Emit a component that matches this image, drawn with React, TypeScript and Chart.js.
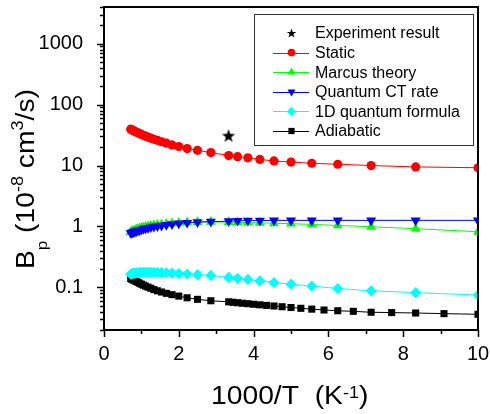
import { useEffect, useRef } from 'react';
import { Chart, registerables } from 'chart.js';
import { drawPoint } from 'chart.js/helpers';

Chart.register(...registerables);

const FONT = '"Liberation Sans", Arial, Helvetica, sans-serif';

// Temperatures (K) at which the curves were sampled; x = 1000/T
const tempsMain = [100, 120, 140, 160, 180, 200, 220, 240, 260, 280, 300,
  350, 400, 450, 500, 550, 600, 650, 700, 750, 800, 850, 900, 950, 1000,
  1050, 1100, 1150, 1200, 1250, 1300, 1350, 1400];
const tempsAdiabatic = [100, 110, 120, 130, 140, 150, 160, 170, 180, 190, 200,
  210, 220, 230, 240, 250, 260, 270, 280, 290, 300,
  350, 400, 450, 500, 550, 600, 650, 700, 750, 800, 850, 900, 950, 1000,
  1050, 1100, 1150, 1200, 1250, 1300, 1350, 1400];

const experimentX = [3.33];
const experimentY = [31];

const staticVals = [9.2, 9.5, 10.0, 10.5, 10.9, 11.4, 11.9, 12.6, 13.4, 14.0, 14.6,
  16.3, 17.8, 19.0, 20.5, 21.8, 23.3, 24.6, 25.9, 27.0, 28.2, 29.3, 30.4, 31.4, 32.4,
  33.4, 34.4, 35.3, 36.2, 37.0, 37.9, 38.7, 39.5];
const marcusVals = [0.82, 0.92, 0.99, 1.04, 1.08, 1.11, 1.13, 1.15, 1.16, 1.17, 1.18,
  1.19, 1.18, 1.17, 1.15, 1.13, 1.11, 1.09, 1.07, 1.05, 1.03, 1.01, 0.99, 0.97, 0.95,
  0.93, 0.91, 0.89, 0.87, 0.86, 0.84, 0.83, 0.81];
const quantumCTVals = [1.26, 1.26, 1.26, 1.26, 1.26, 1.26, 1.26, 1.25, 1.25, 1.24, 1.22,
  1.20, 1.18, 1.15, 1.12, 1.09, 1.06, 1.03, 1.01, 0.99, 0.97, 0.95, 0.93, 0.91, 0.89,
  0.87, 0.86, 0.84, 0.83, 0.81, 0.80, 0.79, 0.78];
const oneDVals = [0.075, 0.082, 0.088, 0.096, 0.105, 0.113, 0.12, 0.128, 0.135, 0.141, 0.146,
  0.157, 0.162, 0.166, 0.169, 0.172, 0.174, 0.175, 0.176, 0.177, 0.177, 0.177, 0.177, 0.176, 0.176,
  0.175, 0.174, 0.173, 0.172, 0.170, 0.169, 0.167, 0.165];
const adiabaticVals = [0.0362, 0.0371, 0.0380, 0.0386, 0.0391, 0.0405, 0.0414, 0.0426, 0.0440, 0.0454, 0.0468,
  0.0482, 0.0495, 0.0507, 0.0518, 0.0529, 0.0540, 0.0550, 0.0560, 0.0570, 0.0580,
  0.0604, 0.0637, 0.0676, 0.072, 0.076, 0.080, 0.084, 0.088, 0.092, 0.097, 0.101, 0.105, 0.109, 0.113,
  0.117, 0.121, 0.125, 0.128, 0.131, 0.134, 0.137, 0.140];

const seriesLabels = ['Experiment result', 'Static', 'Marcus theory', 'Quantum CT rate', '1D quantum formula', 'Adiabatic'];
const seriesColors = ['#000000', '#FF0000', '#00FF00', '#0000FF', '#00FFFF', '#000000'];

const xTicks = [0, 2, 4, 6, 8, 10];
const yTicks = [0.1, 1, 10, 100, 1000];

function starPath(ctx: CanvasRenderingContext2D, cx: number, cy: number, R: number, r: number) {
  ctx.beginPath();
  for (let i = 0; i < 10; i++) {
    const a = -Math.PI / 2 + (i * Math.PI) / 5;
    const rad = i % 2 === 0 ? R : r;
    ctx.lineTo(cx + rad * Math.cos(a), cy + rad * Math.sin(a));
  }
  ctx.closePath();
}

function makeStar(size: number) {
  const c = document.createElement('canvas');
  c.width = size;
  c.height = size;
  const ctx = c.getContext('2d')!;
  ctx.fillStyle = '#000';
  starPath(ctx, size / 2, size / 2 + 0.6, size / 2, size / 5);
  ctx.fill();
  return c;
}

type Seg = { t: string; size: number; dy: number };
function drawRich(ctx: CanvasRenderingContext2D, segs: Seg[], x: number, y: number, rot: number, sx: number) {
  ctx.save();
  ctx.translate(x, y);
  ctx.rotate(rot);
  ctx.scale(sx, 1);
  ctx.textBaseline = 'alphabetic';
  ctx.textAlign = 'left';
  ctx.fillStyle = '#000';
  let cx = 0;
  for (const s of segs) {
    ctx.font = `${s.size}px ${FONT}`;
    ctx.fillText(s.t, cx, s.dy);
    cx += ctx.measureText(s.t).width;
  }
  ctx.restore();
}

const noPad = (s: any) => {
  s.paddingLeft = 0;
  s.paddingRight = 0;
  s.paddingTop = 0;
  s.paddingBottom = 0;
};

const decorPlugin = {
  id: 'decor',
  afterDraw(chart: any) {
    const ctx: CanvasRenderingContext2D = chart.ctx;
    const { left, right, top, bottom } = chart.chartArea;
    const xs = chart.scales.x;
    const ys = chart.scales.y;
    ctx.save();
    ctx.strokeStyle = '#000';
    ctx.lineWidth = 2;
    ctx.strokeRect(left, top, right - left, bottom - top);

    ctx.lineWidth = 1.5;
    ctx.beginPath();
    for (let v = xs.min; v <= xs.max; v += 1) {
      const px = Math.round(xs.getPixelForValue(v)) + 0.5;
      const len = v % 2 === 0 ? 7 : 4;
      ctx.moveTo(px, bottom);
      ctx.lineTo(px, bottom + len);
    }
    ctx.stroke();

    ctx.beginPath();
    for (let d = -2; d <= 3; d++) {
      for (let m = 1; m <= 9; m++) {
        const v = m * Math.pow(10, d);
        if (v < ys.min * 0.999 || v > ys.max * 1.001) continue;
        const py = Math.round(ys.getPixelForValue(v)) + 0.5;
        const len = m === 1 ? 7 : 4;
        ctx.moveTo(left, py);
        ctx.lineTo(left - len, py);
      }
    }
    ctx.stroke();

    // axis titles
    drawRich(ctx, [
      { t: '1000/T  (K', size: 25, dy: 0 },
      { t: '-1', size: 16, dy: -6 },
      { t: ')', size: 25, dy: 0 },
    ], 211, 404, 0, 1.13);
    drawRich(ctx, [
      { t: 'B', size: 25, dy: 0 },
      { t: 'p', size: 15, dy: 13 },
      { t: ' (10', size: 25, dy: 0 },
      { t: '-8', size: 16, dy: -11 },
      { t: ' cm', size: 25, dy: 0 },
      { t: '3', size: 16, dy: -11 },
      { t: '/s)', size: 25, dy: 0 },
    ], 34, 269, -Math.PI / 2, 1.13);

    // legend
    const bx = 254, by = 14, bw = 219, bh = 131;
    ctx.fillStyle = '#fff';
    ctx.fillRect(bx, by, bw, bh);
    ctx.strokeStyle = '#333';
    ctx.lineWidth = 1;
    ctx.strokeRect(bx + 0.5, by + 0.5, bw, bh);
    chart.data.datasets.forEach((ds: any, i: number) => {
      const cy = 33 + i * 19.6;
      const mx = 291.5;
      if (ds.showLine !== false) {
        ctx.strokeStyle = ds.borderColor;
        ctx.lineWidth = 1;
        ctx.beginPath();
        ctx.moveTo(273, Math.round(cy) + 0.5);
        ctx.lineTo(309, Math.round(cy) + 0.5);
        ctx.stroke();
      }
      ctx.fillStyle = ds.pointBackgroundColor;
      if (ds.legendStar) {
        starPath(ctx, mx, cy + 0.5, 5, 2);
        ctx.fill();
      } else {
        drawPoint(ctx, { pointStyle: ds.pointStyle, radius: ds.legendRadius, rotation: ds.pointRotation || 0, borderWidth: 0 }, mx, cy);
      }
      ctx.fillStyle = '#000';
      ctx.font = `16px ${FONT}`;
      ctx.textBaseline = 'middle';
      ctx.textAlign = 'left';
      ctx.fillText(ds.label, 315, cy + 1);
    });
    ctx.restore();
  },
};

export default function App() {
  const ref = useRef<HTMLCanvasElement>(null);
  useEffect(() => {
    const star = makeStar(14);
    const pts = (temps: number[], vals: number[]) => temps.map((T, i) => ({ x: 1000 / T, y: vals[i] }));
    const base = (i: number) => ({
      label: seriesLabels[i],
      borderColor: seriesColors[i],
      backgroundColor: seriesColors[i],
      pointBackgroundColor: seriesColors[i],
      pointBorderWidth: 0,
      borderWidth: 1,
    });
    const chart = new Chart(ref.current!, {
      type: 'line',
      data: {
        datasets: [
          { ...base(0), data: experimentX.map((x, i) => ({ x, y: experimentY[i] })), showLine: false, pointStyle: star, pointRadius: 7, legendStar: true, order: 0 } as any,
          { ...base(1), data: pts(tempsMain, staticVals), pointStyle: 'circle', pointRadius: 4.6, legendRadius: 3.8, order: 1 } as any,
          { ...base(2), data: pts(tempsMain, marcusVals), pointStyle: 'triangle', pointRadius: 5.8, legendRadius: 4.6, order: 3 } as any,
          { ...base(3), data: pts(tempsMain, quantumCTVals), pointStyle: 'triangle', pointRotation: 180, rotation: 180, pointRadius: 5.8, legendRadius: 4.6, order: 2 } as any,
          { ...base(4), data: pts(tempsMain, oneDVals), pointStyle: 'rectRot', pointRadius: 5.6, legendRadius: 4.6, order: 4 } as any,
          { ...base(5), data: pts(tempsAdiabatic, adiabaticVals), pointStyle: 'rect', pointRadius: 5, legendRadius: 4.4, order: 5 } as any,
        ],
      },
      options: {
        responsive: false,
        animation: false,
        parsing: false as any,
        layout: { padding: { top: 5, right: 12, left: 0, bottom: 0 } },
        plugins: { legend: { display: false }, tooltip: { enabled: false } },
        elements: { line: { tension: 0 } },
        scales: {
          x: {
            type: 'linear',
            min: 0,
            max: 10,
            grid: { display: false },
            border: { display: false },
            afterBuildTicks: (s: any) => { s.ticks = xTicks.map((v) => ({ value: v })); },
            ticks: { color: '#000', font: { family: FONT, size: 20 }, padding: 4, maxRotation: 0 },
            afterFit: (s: any) => { s.height = 84; noPad(s); },
          },
          y: {
            type: 'logarithmic',
            min: 0.02,
            max: 4000,
            grid: { display: false },
            border: { display: false },
            afterBuildTicks: (s: any) => { s.ticks = yTicks.map((v) => ({ value: v })); },
            ticks: { color: '#000', font: { family: FONT, size: 20 }, padding: 13, callback: (v: any) => String(v) },
            afterFit: (s: any) => { s.width = 104; noPad(s); },
          },
        },
      },
      plugins: [decorPlugin],
    });
    return () => chart.destroy();
  }, []);
  return (
    <div style={{ position: 'absolute', left: 0, top: 0, width: 490, height: 414, background: '#fff' }}>
      <canvas ref={ref} width={490} height={414} style={{ display: 'block', width: 490, height: 414 }} />
    </div>
  );
}
